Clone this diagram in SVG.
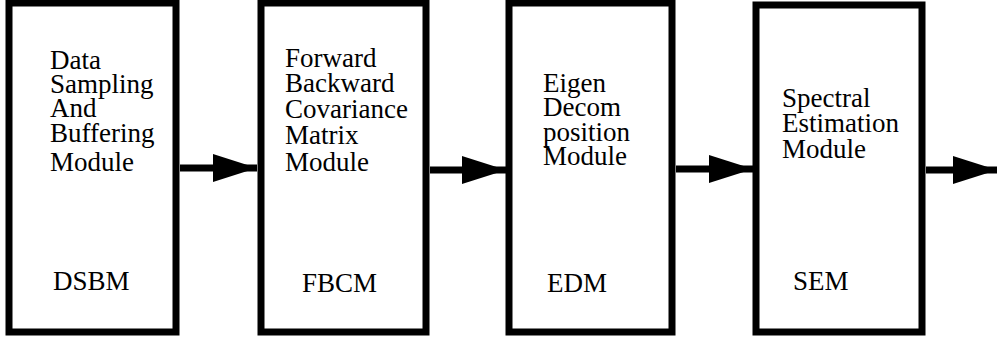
<svg xmlns="http://www.w3.org/2000/svg" width="997" height="341" viewBox="0 0 997 341">
<defs>
<style>
.box{fill:#fff;stroke:#000;stroke-width:7}
.t{font-family:'Liberation Serif','DejaVu Serif','Times New Roman',serif;font-size:27px;fill:#000}
.c{stroke:#000;stroke-width:7;fill:none}
</style>
<marker id="ah" markerUnits="userSpaceOnUse" markerWidth="44" markerHeight="28" refX="44" refY="14" orient="auto">
<path d="M0,0 L44,14 L0,28 Z" fill="#000"/>
</marker>
</defs>
<rect width="997" height="341" fill="#fff"/>
<g id="DSBM">
<rect class="box" x="9" y="3" width="167" height="329"/>
<text class="t"><tspan x="50" y="69">Data</tspan><tspan x="50" y="93">Sampling</tspan><tspan x="50" y="117">And</tspan><tspan x="50" y="142">Buffering</tspan><tspan x="50" y="171">Module</tspan></text>
<text class="t" x="53" y="290">DSBM</text>
</g>
<g id="FBCM">
<rect class="box" x="261" y="3" width="165" height="329"/>
<text class="t"><tspan x="285" y="67">Forward</tspan><tspan x="285" y="92">Backward</tspan><tspan x="285" y="118">Covariance</tspan><tspan x="285" y="144">Matrix</tspan><tspan x="285" y="171">Module</tspan></text>
<text class="t" x="302" y="292">FBCM</text>
</g>
<g id="EDM">
<rect class="box" x="509" y="3" width="163" height="329"/>
<text class="t"><tspan x="543" y="92">Eigen</tspan><tspan x="543" y="116">Decom</tspan><tspan x="543" y="141">position</tspan><tspan x="543" y="165">Module</tspan></text>
<text class="t" x="547" y="292">EDM</text>
</g>
<g id="SEM">
<rect class="box" x="756" y="5" width="166" height="327"/>
<text class="t"><tspan x="782" y="107">Spectral</tspan><tspan x="782" y="132">Estimation</tspan><tspan x="782" y="158">Module</tspan></text>
<text class="t" x="793" y="290">SEM</text>
</g>
<g id="connectors">
<line class="c" x1="180" y1="168" x2="257" y2="168" marker-end="url(#ah)"/>
<line class="c" x1="430" y1="170" x2="506" y2="170" marker-end="url(#ah)"/>
<line class="c" x1="676" y1="169" x2="753" y2="169" marker-end="url(#ah)"/>
<line class="c" x1="926" y1="170" x2="997" y2="170" marker-end="url(#ah)"/>
</g>
</svg>
